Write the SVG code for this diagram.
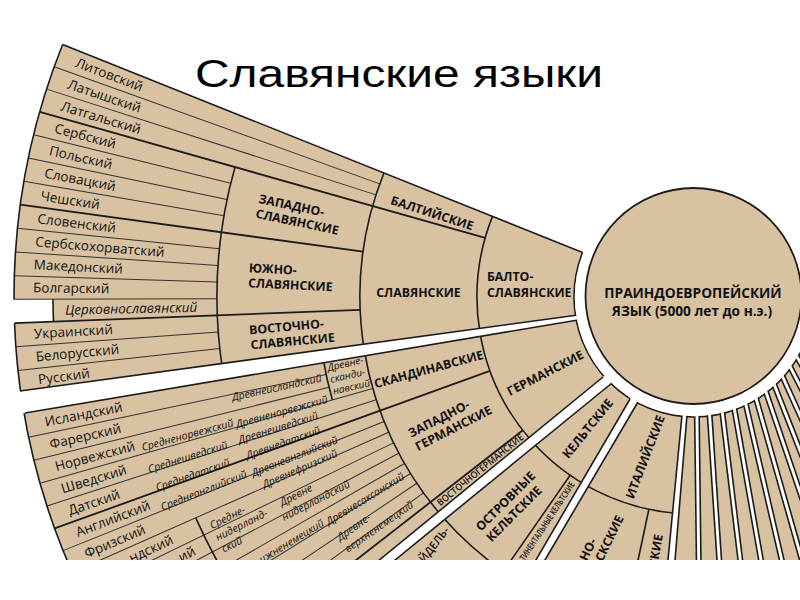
<svg xmlns="http://www.w3.org/2000/svg" width="800" height="600" viewBox="0 0 800 600">
<defs><style>
.f{fill:none;stroke:#d8c2a2}
.e{fill:none;stroke:#1c1c1c;stroke-width:1.6}
.t{fill:none;stroke:#1c1c1c;stroke-width:1.8}
.l{fill:none;stroke:#333;stroke-width:1}
.bd{fill:#fff}
text{font-family:"Open Sans","Noto Sans","DejaVu Sans",sans-serif;fill:#111}
.ti{font-family:"Liberation Sans",Arial,sans-serif;font-size:38px;fill:#000}
.n{font-size:13.5px}
.it{font-size:10.5px;font-style:italic}
.b{font-size:12.3px;font-weight:700}
.c{font-size:9.5px;font-weight:600}
</style></defs>
<rect width="800" height="600" fill="#fff"/>
<text class="ti" x="195" y="87" textLength="408" lengthAdjust="spacingAndGlyphs">Славянские языки</text>

<g id="fills">
<circle class="f" cx="694" cy="297" r="399" stroke-width="562" stroke-dasharray="215.9 3000" transform="rotate(170.8 694 297)"/>
<circle class="f" cx="694" cy="297" r="399" stroke-width="562" stroke-dasharray="224.2 3000" transform="rotate(138.6 694 297)"/>
<circle class="f" cx="694" cy="297" r="419" stroke-width="602" stroke-dasharray="1013.6 3000"/>
<circle fill="none" stroke="#fff" cx="694" cy="297" r="665.5" stroke-width="49" stroke-dasharray="23.23 5000" transform="rotate(177.8 694 297)"/>
</g>

<g id="lines">
<line class="e" x1="574" y1="297" x2="14" y2="297" transform="rotate(21.8 694 297)"/>
<line class="l" x1="360" y1="297" x2="14" y2="297" transform="rotate(19.8 694 297)"/>
<line class="l" x1="360" y1="297" x2="14" y2="297" transform="rotate(17.8 694 297)"/>
<line class="t" x1="477" y1="297" x2="14" y2="297" transform="rotate(15.8 694 297)"/>
<line class="l" x1="217" y1="297" x2="14" y2="297" transform="rotate(13.8 694 297)"/>
<line class="l" x1="217" y1="297" x2="14" y2="297" transform="rotate(11.8 694 297)"/>
<line class="l" x1="217" y1="297" x2="14" y2="297" transform="rotate(9.8 694 297)"/>
<line class="t" x1="360" y1="297" x2="14" y2="297" transform="rotate(7.8 694 297)"/>
<line class="l" x1="217" y1="297" x2="14" y2="297" transform="rotate(5.8 694 297)"/>
<line class="l" x1="217" y1="297" x2="14" y2="297" transform="rotate(3.8 694 297)"/>
<line class="l" x1="217" y1="297" x2="14" y2="297" transform="rotate(1.8 694 297)"/>
<line class="l" x1="217" y1="297" x2="14" y2="297" transform="rotate(-0.2 694 297)"/>
<line class="t" x1="360" y1="297" x2="14" y2="297" transform="rotate(-2.2 694 297)"/>
<line class="l" x1="217" y1="297" x2="14" y2="297" transform="rotate(-4.2 694 297)"/>
<line class="l" x1="217" y1="297" x2="14" y2="297" transform="rotate(-6.2 694 297)"/>
<circle class="e" cx="694" cy="297" r="680" stroke-dasharray="83.08 5000" transform="rotate(170.8 694 297)"/>
<circle class="e" cx="694" cy="297" r="680" stroke-dasharray="261.1 5000" transform="rotate(179.8 694 297)"/>
<circle class="e" cx="694" cy="297" r="641" stroke-dasharray="22.38 5000" transform="rotate(177.8 694 297)"/>
<circle class="e" cx="694" cy="297" r="477" stroke-width="1.3" stroke-dasharray="208.13 5000" transform="rotate(170.8 694 297)"/>
<circle class="e" cx="694" cy="297" r="334" stroke-dasharray="180.7 5000" transform="rotate(170.8 694 297)"/>
<circle class="e" cx="694" cy="297" r="217" stroke-dasharray="117.4 5000" transform="rotate(170.8 694 297)"/>

<line class="l" x1="318" y1="297" x2="14" y2="297" transform="rotate(-11.9 694 297)"/>
<line class="l" x1="318" y1="297" x2="14" y2="297" transform="rotate(-13.9 694 297)"/>
<line class="l" x1="360" y1="297" x2="14" y2="297" transform="rotate(-15.9 694 297)"/>
<line class="l" x1="360" y1="297" x2="14" y2="297" transform="rotate(-17.9 694 297)"/>
<line class="t" x1="477" y1="297" x2="14" y2="297" transform="rotate(-19.9 694 297)"/>
<line class="l" x1="360" y1="297" x2="14" y2="297" transform="rotate(-21.9 694 297)"/>
<line class="l" x1="360" y1="297" x2="14" y2="297" transform="rotate(-23.9 694 297)"/>
<line class="l" x1="360" y1="297" x2="14" y2="297" transform="rotate(-25.9 694 297)"/>
<line class="l" x1="360" y1="297" x2="14" y2="297" transform="rotate(-27.9 694 297)"/>
<line class="l" x1="360" y1="297" x2="14" y2="297" transform="rotate(-29.9 694 297)"/>
<line class="l" x1="360" y1="297" x2="14" y2="297" transform="rotate(-31.9 694 297)"/>
<line class="l" x1="360" y1="297" x2="14" y2="297" transform="rotate(-33.9 694 297)"/>
<line class="l" x1="360" y1="297" x2="14" y2="297" transform="rotate(-35.9 694 297)"/>
<line class="t" x1="477" y1="297" x2="14" y2="297" transform="rotate(-37.9 694 297)"/>
<circle class="e" cx="694" cy="297" r="680" stroke-dasharray="382.2 5000" transform="rotate(138.6 694 297)"/>
<circle class="e" cx="694" cy="297" r="376" stroke-dasharray="43.97 5000" transform="rotate(164.1 694 297)"/>
<circle class="e" cx="694" cy="297" r="334" stroke-dasharray="187.7 5000" transform="rotate(138.6 694 297)"/>
<circle class="e" cx="694" cy="297" r="217" stroke-dasharray="121.95 5000" transform="rotate(138.6 694 297)"/>
<circle class="e" cx="694" cy="297" r="545" stroke-width="1.2" stroke-dasharray="95.12 5000" transform="rotate(146.1 694 297)"/>

<circle class="e" cx="694" cy="297" r="217" stroke-dasharray="165.9 5000" transform="rotate(94.8 694 297)"/>
<circle class="e" cx="694" cy="297" r="334" stroke-dasharray="80.45 5000" transform="rotate(124.8 694 297)"/>
<line class="e" x1="477" y1="297" x2="-40" y2="297" transform="rotate(-55.2 694 297)"/>
<line class="e" x1="477" y1="297" x2="-40" y2="297" transform="rotate(-78 694 297)"/>
<circle class="e" cx="694" cy="297" r="120" stroke-dasharray="422.6 5000"/>
</g>

<g id="gaps">
<polygon class="bd" points="590,313.4 0,393.7 0,417.2 590,318"/>
<line class="e" x1="578" y1="315" x2="20" y2="391"/>
<line class="e" x1="578" y1="320" x2="25" y2="413"/>
<polygon class="bd" points="617.7,365 330.4,600 346,600 626.7,371"/>
<line class="e" x1="603" y1="377" x2="330.4" y2="600"/>
<line class="e" x1="612" y1="383" x2="346" y2="600"/>
<polygon class="bd" points="638.2,385 512.6,600 521.4,600 646.2,388"/>
<line class="e" x1="630" y1="399" x2="512.6" y2="600"/>
<line class="e" x1="638" y1="402" x2="521.4" y2="600"/>
<polygon class="bd" points="683.4,400 664.1,600 671.7,600 688.2,400"/>
<line class="e" x1="682" y1="415" x2="664.1" y2="600"/>
<line class="e" x1="687" y1="415" x2="671.7" y2="600"/>
<g transform="translate(696.9 413.96) rotate(89.3)"><rect class="bd" x="-4" y="-2.25" width="300" height="4.5"/><line class="e" x1="0" y1="-2.25" x2="300" y2="-2.25"/><line class="e" x1="0" y1="2.25" x2="300" y2="2.25"/></g>
<g transform="translate(709.5 413) rotate(86.2)"><rect class="bd" x="-4" y="-2.25" width="300" height="4.5"/><line class="e" x1="0" y1="-2.25" x2="300" y2="-2.25"/><line class="e" x1="0" y1="2.25" x2="300" y2="2.25"/></g>
<g transform="translate(722.1 410.6) rotate(83.05)"><rect class="bd" x="-4" y="-2.25" width="300" height="4.5"/><line class="e" x1="0" y1="-2.25" x2="300" y2="-2.25"/><line class="e" x1="0" y1="2.25" x2="300" y2="2.25"/></g>
<g transform="translate(734 406.9) rotate(80)"><rect class="bd" x="-4" y="-2.25" width="300" height="4.5"/><line class="e" x1="0" y1="-2.25" x2="300" y2="-2.25"/><line class="e" x1="0" y1="2.25" x2="300" y2="2.25"/></g>
<g transform="translate(745.3 402.2) rotate(77)"><rect class="bd" x="-4" y="-2.25" width="300" height="4.5"/><line class="e" x1="0" y1="-2.25" x2="300" y2="-2.25"/><line class="e" x1="0" y1="2.25" x2="300" y2="2.25"/></g>
<g transform="translate(755.5 396.5) rotate(74.15)"><rect class="bd" x="-4" y="-2.25" width="300" height="4.5"/><line class="e" x1="0" y1="-2.25" x2="300" y2="-2.25"/><line class="e" x1="0" y1="2.25" x2="300" y2="2.25"/></g>
<g transform="translate(765.2 389.8) rotate(71.25)"><rect class="bd" x="-4" y="-2.25" width="300" height="4.5"/><line class="e" x1="0" y1="-2.25" x2="300" y2="-2.25"/><line class="e" x1="0" y1="2.25" x2="300" y2="2.25"/></g>
<g transform="translate(773.5 382.8) rotate(68.6)"><rect class="bd" x="-4" y="-2.25" width="300" height="4.5"/><line class="e" x1="0" y1="-2.25" x2="300" y2="-2.25"/><line class="e" x1="0" y1="2.25" x2="300" y2="2.25"/></g>
<g transform="translate(781.6 374.5) rotate(65.75)"><rect class="bd" x="-4" y="-2.25" width="300" height="4.5"/><line class="e" x1="0" y1="-2.25" x2="300" y2="-2.25"/><line class="e" x1="0" y1="2.25" x2="300" y2="2.25"/></g>
<g transform="translate(789.2 364.9) rotate(62.75)"><rect class="bd" x="-4" y="-2.25" width="300" height="4.5"/><line class="e" x1="0" y1="-2.25" x2="300" y2="-2.25"/><line class="e" x1="0" y1="2.25" x2="300" y2="2.25"/></g>
<g transform="translate(795.7 354.8) rotate(59.8)"><rect class="bd" x="-4" y="-2.25" width="300" height="4.5"/><line class="e" x1="0" y1="-2.25" x2="300" y2="-2.25"/><line class="e" x1="0" y1="2.25" x2="300" y2="2.25"/></g>
<circle cx="694" cy="297" r="113.85" fill="none" stroke="#fff" stroke-width="10.7"/>
</g>

<g id="root">
<circle cx="693.5" cy="296" r="108" fill="#d8c2a2" stroke="#1c1c1c" stroke-width="1.8"/>
<text class="b" x="693" y="298" text-anchor="middle" style="font-size:13.7px">ПРАИНДОЕВРОПЕЙСКИЙ</text>
<text class="b" x="692" y="316" text-anchor="middle" style="font-size:13.7px">ЯЗЫК (5000 лет до н.э.)</text>
</g>

<g id="slavic">
<text class="n" x="33" y="301.5" transform="rotate(20.8 694 297)">Литовский</text>
<text class="n" x="33" y="301.5" transform="rotate(18.8 694 297)">Латышский</text>
<text class="n" x="33" y="301.5" transform="rotate(16.8 694 297)">Латгальский</text>
<text class="n" x="33" y="301.5" transform="rotate(14.8 694 297)">Сербский</text>
<text class="n" x="33" y="301.5" transform="rotate(12.8 694 297)">Польский</text>
<text class="n" x="33" y="301.5" transform="rotate(10.8 694 297)">Словацкий</text>
<text class="n" x="33" y="301.5" transform="rotate(8.8 694 297)">Чешский</text>
<text class="n" x="33" y="301.5" transform="rotate(6.8 694 297)">Словенский</text>
<text class="n" x="33" y="301.5" transform="rotate(4.8 694 297)">Сербскохорватский</text>
<text class="n" x="33" y="301.5" transform="rotate(2.8 694 297)">Македонский</text>
<text class="n" x="33" y="301.5" transform="rotate(0.8 694 297)">Болгарский</text>
<text class="n" x="65" y="301.5" transform="rotate(-1.2 694 297)" style="font-style:italic">Церковнославянский</text>
<text class="n" x="33" y="301.5" transform="rotate(-3.2 694 297)">Украинский</text>
<text class="n" x="33" y="301.5" transform="rotate(-5.2 694 297)">Белорусский</text>
<text class="n" x="33" y="301.5" transform="rotate(-7.2 694 297)">Русский</text>
<text class="b" transform="rotate(11.8 694 297)"><tspan x="248" y="294">ЗАПАДНО-</tspan><tspan x="248" y="309">СЛАВЯНСКИЕ</tspan></text>
<text class="b" transform="rotate(2.8 694 297)"><tspan x="248" y="294">ЮЖНО-</tspan><tspan x="248" y="309">СЛАВЯНСКИЕ</tspan></text>
<text class="b" transform="rotate(-5.2 694 297)"><tspan x="248" y="294">ВОСТОЧНО-</tspan><tspan x="248" y="309">СЛАВЯНСКИЕ</tspan></text>
<text class="b" x="419" y="301.5" text-anchor="middle" transform="rotate(17.8 694 297)">БАЛТИЙСКИЕ</text>
<text class="b" x="418.5" y="296.5" text-anchor="middle">СЛАВЯНСКИЕ</text>
<text class="b"><tspan x="487" y="281">БАЛТО-</tspan><tspan x="487" y="297">СЛАВЯНСКИЕ</tspan></text>
</g>

<g id="germanic">
<text class="n" x="33" y="301.5" transform="rotate(-10.9 694 297)">Исландский</text>
<text class="n" x="33" y="301.5" transform="rotate(-12.9 694 297)">Фарерский</text>
<text class="n" x="33" y="301.5" transform="rotate(-14.9 694 297)">Норвежский</text>
<text class="n" x="33" y="301.5" transform="rotate(-16.9 694 297)">Шведский</text>
<text class="n" x="33" y="301.5" transform="rotate(-18.9 694 297)">Датский</text>
<text class="n" x="33" y="301.5" transform="rotate(-20.9 694 297)">Английский</text>
<text class="n" x="33" y="301.5" transform="rotate(-22.9 694 297)">Фризский</text>
<text class="n" x="119" y="301.5" text-anchor="end" transform="rotate(-24.9 694 297)">ндский</text>
<text class="n" x="134" y="301.5" text-anchor="end" transform="rotate(-26.9 694 297)">ий</text>
<text class="it" x="169" y="301" text-anchor="middle" transform="rotate(-15.2 694 297)">Средненорвежский</text>
<text class="it" x="163" y="301" text-anchor="middle" transform="rotate(-17.5 694 297)">Среднешведский</text>
<text class="it" x="162" y="301" text-anchor="middle" transform="rotate(-19.5 694 297)">Среднедатский</text>
<text class="it" x="167" y="301" text-anchor="middle" transform="rotate(-21.5 694 297)">Среднеанглийский</text>
<text class="it" x="267" y="301" text-anchor="middle" transform="rotate(-12.2 694 297)">Древнеисландский</text>
<text class="it" x="266" y="301" text-anchor="middle" transform="rotate(-15.5 694 297)">Древненорвежский</text>
<text class="it" x="258" y="301" text-anchor="middle" transform="rotate(-17.4 694 297)">Древнешведский</text>
<text class="it" x="258" y="301" text-anchor="middle" transform="rotate(-19.5 694 297)">Древнедатский</text>
<text class="it" x="264" y="301" text-anchor="middle" transform="rotate(-21.7 694 297)">Древнеанглийский</text>
<text class="it" x="264" y="301" text-anchor="middle" transform="rotate(-23.5 694 297)">Древнефризский</text>
<text class="it" transform="rotate(-26.7 694 297)"><tspan x="159" y="288">Средне-</tspan><tspan x="159" y="301">нидерланд-</tspan><tspan x="159" y="314">ский</tspan></text>
<text class="it" transform="rotate(-27.3 694 297)"><tspan x="232" y="294">Древне</tspan><tspan x="227" y="308">нидерландский</tspan></text>
<text class="it" x="260" y="301" text-anchor="end" transform="rotate(-31.2 694 297)">ижненемецкий</text>
<text class="it" x="308" y="301" text-anchor="middle" transform="rotate(-31.5 694 297)">Древнесаксонский</text>
<text class="it" transform="rotate(-35 694 297)"><tspan x="264" y="294">Древне-</tspan><tspan x="264" y="308">верхненемецкий</tspan></text>
<text class="it" transform="rotate(-12.85 694 297)" style="font-size:10px"><tspan x="321" y="288">Древне-</tspan><tspan x="321" y="300">сканди-</tspan><tspan x="321" y="312">навский</tspan></text>
<text class="b" x="419" y="301.5" text-anchor="middle" transform="rotate(-15.2 694 297)">СКАНДИНАВСКИЕ</text>
<text class="b" transform="rotate(-27 694 297)"><tspan x="378" y="294">ЗАПАДНО-</tspan><tspan x="378" y="309">ГЕРМАНСКИЕ</tspan></text>
<text class="b" x="527" y="301.5" text-anchor="middle" transform="rotate(-27 694 297)">ГЕРМАНСКИЕ</text>
<text class="c" x="419" y="300.5" text-anchor="middle" textLength="108" lengthAdjust="spacingAndGlyphs" transform="rotate(-38.9 694 297)">ВОСТОЧНОГЕРМАНСКИЕ</text>
</g>

<g id="celtic">
<text class="b" x="525" y="301.5" text-anchor="middle" transform="rotate(-51 694 297)">КЕЛЬТСКИЕ</text>
<text class="b" transform="translate(512 505) rotate(-45)"><tspan x="-41" y="-3">ОСТРОВНЫЕ</tspan><tspan x="-41" y="12">КЕЛЬТСКИЕ</tspan></text>
<text class="c" x="472" y="300.5" text-anchor="end" textLength="92" lengthAdjust="spacingAndGlyphs" transform="rotate(-56.7 694 297)" style="font-size:9px">ТИНЕНТАЛЬНЫЕ КЕЛЬТСКИЕ</text>
<text class="c" transform="translate(437 547) rotate(-52)" text-anchor="middle" style="font-size:11px">ЙДЕЛЬ-</text>
</g>

<g id="italic">
<text class="b" transform="translate(645 457) rotate(-69)" text-anchor="middle" y="4.5">ИТАЛИЙСКИЕ</text>
<text class="b" transform="translate(597 541) rotate(-64)" text-anchor="end">НО-</text>
<text class="b" transform="translate(624 518) rotate(-64)" text-anchor="end">СКСКИЕ</text>
<text class="b" transform="translate(663 535) rotate(-80)" text-anchor="end">СКИЕ</text>
</g>

<rect x="0" y="560" width="800" height="40" fill="#fff"/>
</svg>
